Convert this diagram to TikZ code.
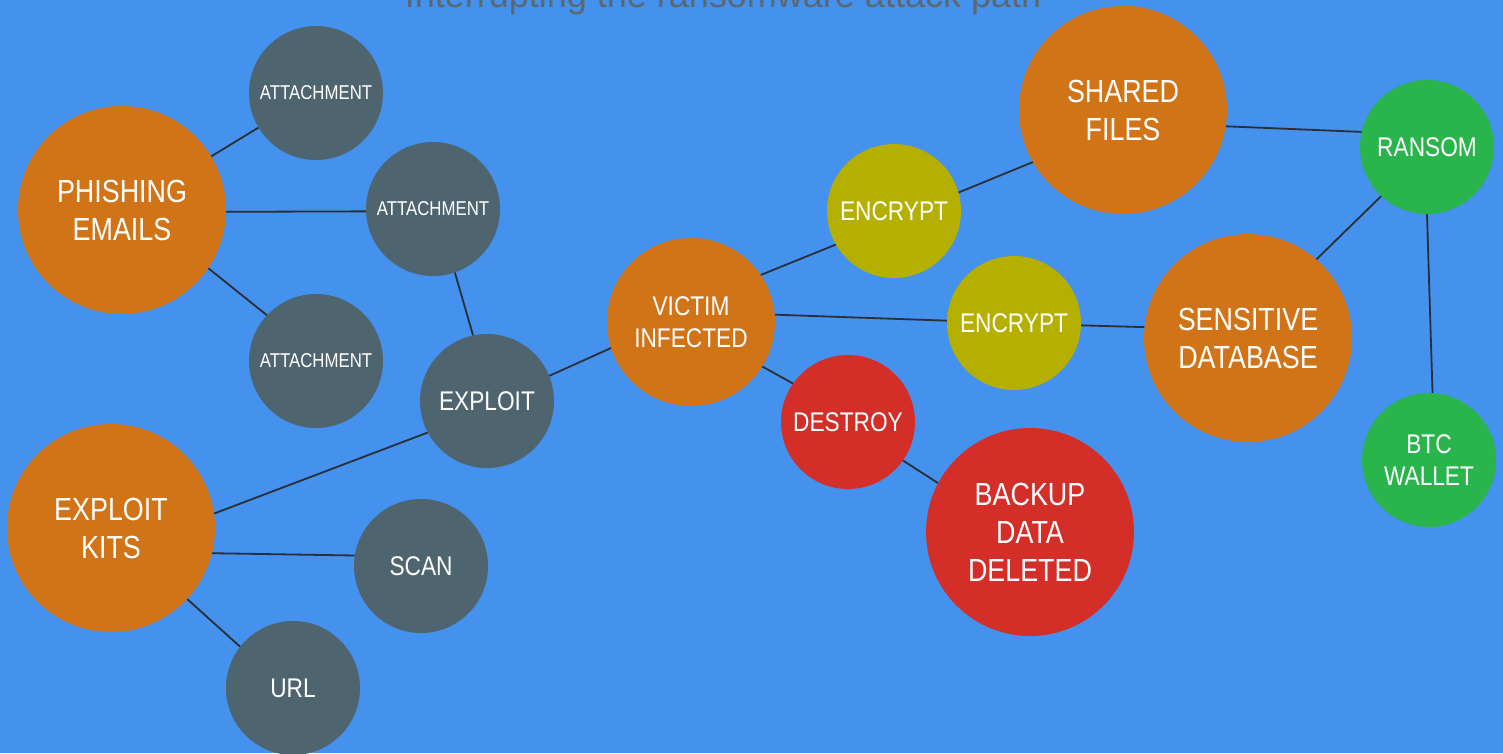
\documentclass[tikz,border=0pt]{standalone}
\usepackage{fontspec}
\setmainfont[FakeStretch=0.84]{Liberation Sans}
\newfontfamily\titlefont{Liberation Sans}
\usetikzlibrary{positioning}
\definecolor{skyback}{HTML}{4491EE}
\definecolor{rustorange}{HTML}{D17417}
\definecolor{slategray}{HTML}{4E6570}
\definecolor{oliveyellow}{HTML}{B5B000}
\definecolor{alertred}{HTML}{D42E28}
\definecolor{walletgreen}{HTML}{2AB44C}
\definecolor{edgegray}{HTML}{2A2F35}
\definecolor{titlegray}{HTML}{5B6870}
\tikzset{
    bubble/.style args={#1 #2}{circle, fill=#2, minimum size=#1, inner sep=0pt,
        text=white, align=center, execute at begin node={\vspace*{6pt}}},
    bigfont/.style={font=\fontsize{32}{38}\selectfont},
    midfont/.style={font=\fontsize{27}{32}\selectfont},
    smallfont/.style={font=\fontsize{20}{24}\selectfont},
    link/.style={draw=edgegray, line width=1.8pt}
}
\begin{document}
\begin{tikzpicture}[x=1pt, y=-1pt]
    \fill[skyback] (0,0) rectangle (1503,753);
    \useasboundingbox (0,0) rectangle (1503,753);
    \node[anchor=base, text=titlegray, font=\titlefont\fontsize{36}{40}\selectfont] (title) at (723,7) {Interrupting the ransomware attack path};
    % left side
    \node[bubble={208pt rustorange}, bigfont] (phish) at (122,210) {PHISHING\\EMAILS};
    \node[bubble={134pt slategray}, smallfont] (att1) at (316,93) {ATTACHMENT};
    \node[bubble={134pt slategray}, smallfont] (att2) at (433,209) {ATTACHMENT};
    \node[bubble={134pt slategray}, smallfont] (att3) at (316,361) {ATTACHMENT};
    \node[bubble={134pt slategray}, midfont] (exploit) at (487,401) {EXPLOIT};
    \node[bubble={208pt rustorange}, bigfont] (kits) at (111,528) {EXPLOIT\\KITS};
    \node[bubble={134pt slategray}, midfont] (scan) at (421,566) {SCAN};
    \node[bubble={134pt slategray}, midfont] (url) at (293,688) {URL};
    % middle
    \node[bubble={168pt rustorange}, midfont] (victim) at (691,322) {VICTIM\\INFECTED};
    \node[bubble={134pt oliveyellow}, midfont] (enc1) at (894,211) {ENCRYPT};
    \node[bubble={134pt oliveyellow}, midfont] (enc2) at (1014,323) {ENCRYPT};
    \node[bubble={134pt alertred}, midfont] (destroy) at (848,422) {DESTROY};
    \node[bubble={208pt alertred}, bigfont] (backup) at (1030,532) {BACKUP\\DATA\\DELETED};
    % right side
    \node[bubble={208pt rustorange}, bigfont] (shared) at (1123,110) {SHARED\\FILES};
    \node[bubble={208pt rustorange}, bigfont] (sensitive) at (1248,338) {SENSITIVE\\DATABASE};
    \node[bubble={134pt walletgreen}, midfont] (ransom) at (1427,147) {RANSOM};
    \node[bubble={134pt walletgreen}, midfont] (btc) at (1429,460) {BTC\\WALLET};
    \draw[link] (phish.31) -- (att1.211);
    \draw[link] (phish.-1) -- (att2.182);
    \draw[link] (phish.-34) -- (att3.137);
    \draw[link] (att2.-71) -- (exploit.102);
    \draw[link] (exploit.208) -- (kits.8);
    \draw[link] (exploit.22) -- (victim.198);
    \draw[link] (kits.-14) -- (scan.171);
    \draw[link] (kits.-43) -- (url.142);
    \draw[link] (victim.34) -- (enc1.210);
    \draw[link] (victim.5) -- (enc2.178);
    \draw[link] (victim.-32) -- (destroy.145);
    \draw[link] (enc1.16) -- (shared.210);
    \draw[link] (enc2.-2) -- (sensitive.174);
    \draw[link] (destroy.-35) -- (backup.152);
    \draw[link] (shared.-9) -- (ransom.167);
    \draw[link] (sensitive.49) -- (ransom.227);
    \draw[link] (ransom.-90) -- (btc.87);
\end{tikzpicture}
\end{document}
